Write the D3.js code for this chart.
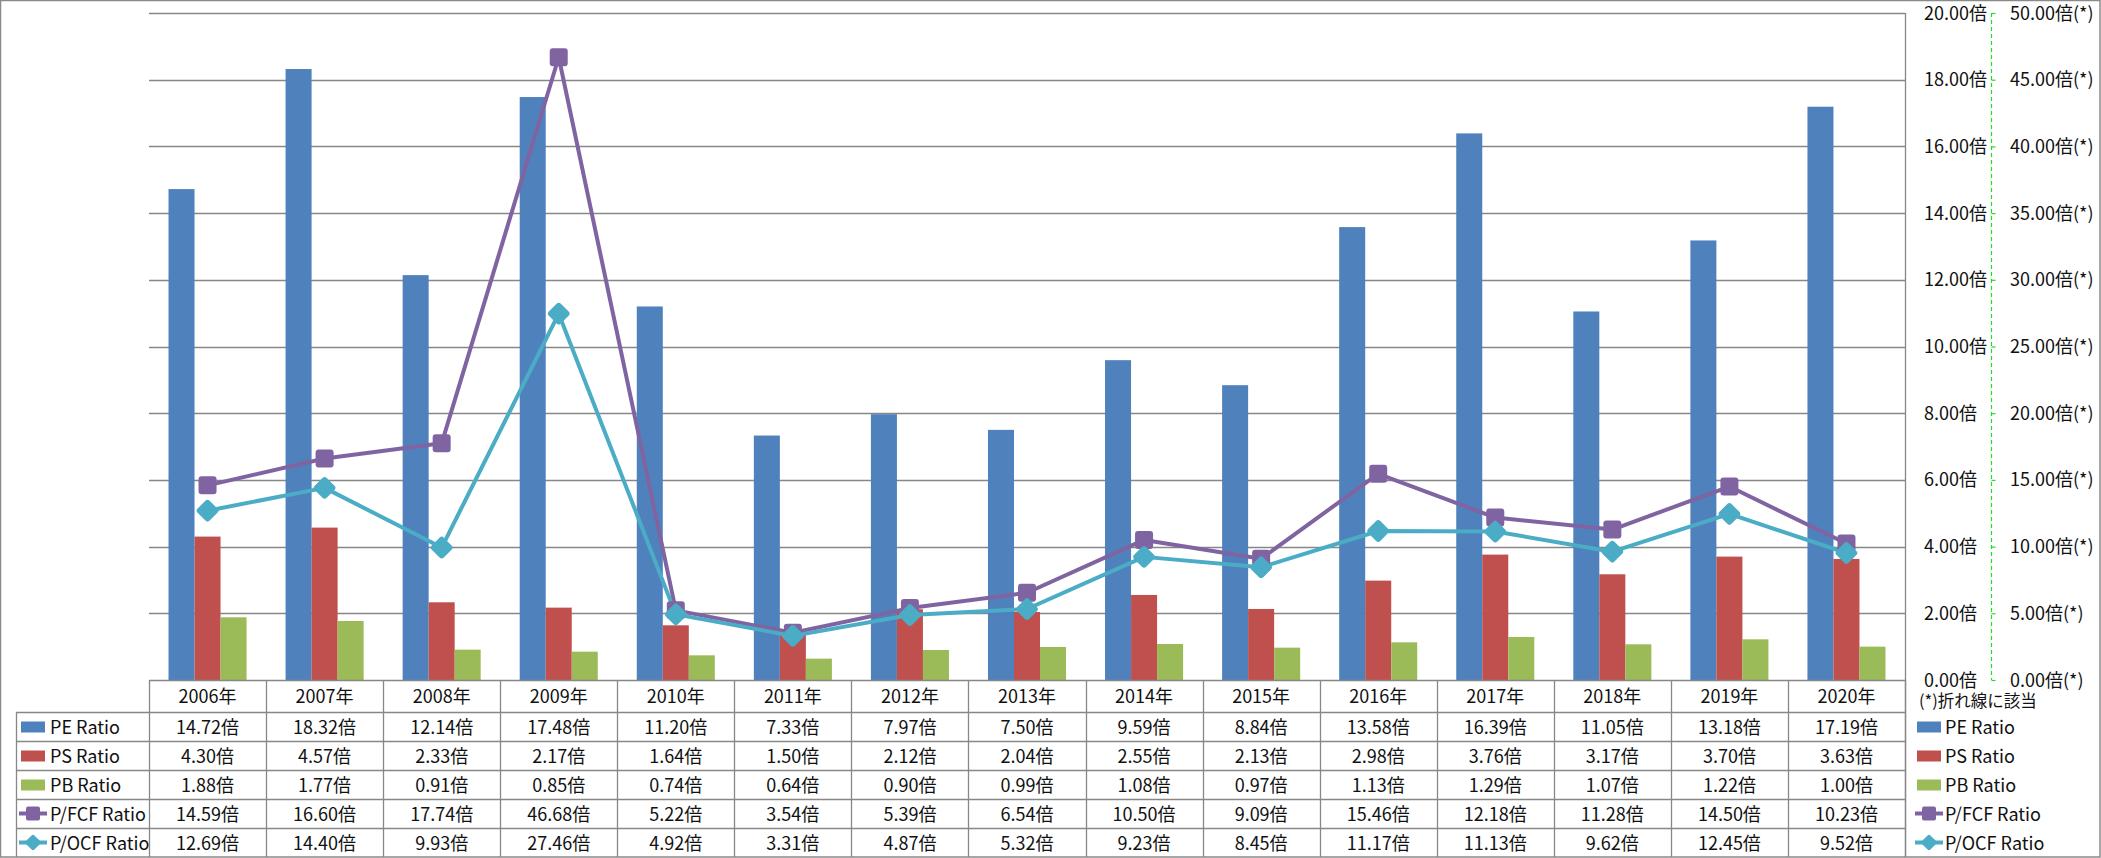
<!DOCTYPE html>
<html>
<head>
<meta charset="utf-8">
<script src="https://cdn.jsdelivr.net/npm/d3@7"></script>
<style>
  html, body { margin: 0; padding: 0; background: #fff; }
  svg { display: block; }
  text { font-family: "Noto Sans CJK JP", "Noto Sans", sans-serif; fill: #111; }
</style>
</head>
<body>
<svg id="chart" width="2101" height="858"></svg>
<script>
const years = ["2006年","2007年","2008年","2009年","2010年","2011年","2012年","2013年","2014年","2015年","2016年","2017年","2018年","2019年","2020年"];
const peRatio  = [14.72,18.32,12.14,17.48,11.20,7.33,7.97,7.50,9.59,8.84,13.58,16.39,11.05,13.18,17.19];
const psRatio  = [4.30,4.57,2.33,2.17,1.64,1.50,2.12,2.04,2.55,2.13,2.98,3.76,3.17,3.70,3.63];
const pbRatio  = [1.88,1.77,0.91,0.85,0.74,0.64,0.90,0.99,1.08,0.97,1.13,1.29,1.07,1.22,1.00];
const pfcfRatio = [14.59,16.60,17.74,46.68,5.22,3.54,5.39,6.54,10.50,9.09,15.46,12.18,11.28,14.50,10.23];
const pocfRatio = [12.69,14.40,9.93,27.46,4.92,3.31,4.87,5.32,9.23,8.45,11.17,11.13,9.62,12.45,9.52];
const barNames = ["PE Ratio","PS Ratio","PB Ratio"];
const lineNames = ["P/FCF Ratio","P/OCF Ratio"];
const leftTicks = [0,2,4,6,8,10,12,14,16,18,20];
const rightTicks = [0,5,10,15,20,25,30,35,40,45,50];
const noteText = "(*)折れ線に該当";

const barSeries = [
  {name: barNames[0], values: peRatio, color: "#4F81BD"},
  {name: barNames[1], values: psRatio, color: "#C0504D"},
  {name: barNames[2], values: pbRatio, color: "#9BBB59"}
];
const lineSeries = [
  {name: lineNames[0], values: pfcfRatio, color: "#8064A2", shape: "square"},
  {name: lineNames[1], values: pocfRatio, color: "#4BACC6", shape: "diamond"}
];

const W = 2101, H = 858;
const plot = {left: 149, right: 1905, top: 13, bottom: 680};
const rowTop = [680, 712, 741, 770, 799, 828, 857];
const legColX = 16;
const gridColor = "#878787";

const svg = d3.select("#chart");

const x = d3.scaleBand().domain(years).range([plot.left, plot.right]).paddingInner(0).paddingOuter(0);
const x1 = d3.scaleBand().domain(barNames).range([0, x.bandwidth()]).paddingInner(0).paddingOuter(0.75);
const y = d3.scaleLinear().domain([0, 20]).range([plot.bottom, plot.top]);
const y2 = d3.scaleLinear().domain([0, 50]).range([plot.bottom, plot.top]);

// outer border
svg.append("rect").attr("x", 0.5).attr("y", 0.5).attr("width", W - 1.5).attr("height", H - 1.5)
  .attr("fill", "none").attr("stroke", "#8a8a8a").attr("stroke-width", 1.5);

// gridlines
svg.append("g").selectAll("line").data(leftTicks.filter(d => d > 0)).join("line")
  .attr("x1", plot.left).attr("x2", plot.right)
  .attr("y1", d => Math.round(y(d)) + 0.5).attr("y2", d => Math.round(y(d)) + 0.5)
  .attr("stroke", gridColor).attr("stroke-width", 1.3);

// bars
const bars = svg.append("g");
barSeries.forEach(s => {
  bars.append("g").selectAll("rect").data(years).join("rect")
    .attr("x", (d) => x(d) + x1(s.name))
    .attr("width", x1.bandwidth())
    .attr("y", (d, i) => y(s.values[i]))
    .attr("height", (d, i) => plot.bottom - y(s.values[i]))
    .attr("fill", s.color);
});

// lines
const lineGen = d3.line().x(d => x(d.year) + x.bandwidth() / 2).y(d => y2(d.v));
lineSeries.forEach(s => {
  const pts = years.map((yr, i) => ({year: yr, v: s.values[i]}));
  svg.append("path").datum(pts).attr("d", lineGen)
    .attr("fill", "none").attr("stroke", s.color).attr("stroke-width", 4).attr("stroke-linejoin", "round");
});
lineSeries.forEach(s => {
  const pts = years.map((yr, i) => ({year: yr, v: s.values[i]}));
  const g = svg.append("g");
  g.selectAll("rect").data(pts).join("rect")
    .attr("x", s.shape === "square" ? -9 : -8.5)
    .attr("y", s.shape === "square" ? -9 : -8.5)
    .attr("width", s.shape === "square" ? 18 : 17)
    .attr("height", s.shape === "square" ? 18 : 17)
    .attr("rx", 3).attr("ry", 3)
    .attr("fill", s.color)
    .attr("transform", d => `translate(${x(d.year) + x.bandwidth() / 2},${y2(d.v)})` + (s.shape === "diamond" ? " rotate(45)" : ""));
});

// right vertical border of plot/table
svg.append("line").attr("x1", plot.right + 0.5).attr("x2", plot.right + 0.5)
  .attr("y1", plot.top).attr("y2", H - 1).attr("stroke", gridColor).attr("stroke-width", 1.3);

// secondary axis dashed line
const axX = 1991.5;
svg.append("line").attr("x1", axX).attr("x2", axX).attr("y1", plot.top).attr("y2", plot.bottom)
  .attr("stroke", "#22dd22").attr("stroke-width", 1.2).attr("stroke-dasharray", "4,3");
svg.append("g").selectAll("line").data(rightTicks).join("line")
  .attr("x1", axX).attr("x2", axX + 4)
  .attr("y1", d => y2(d) + 0.5).attr("y2", d => y2(d) + 0.5)
  .attr("stroke", "#22dd22").attr("stroke-width", 1.2);

// axis labels
const fs = 18;
svg.append("g").selectAll("text").data(leftTicks).join("text")
  .attr("x", 1924).attr("y", d => y(d) + 6.5)
  .attr("font-size", fs).text(d => d.toFixed(2) + "倍");
svg.append("g").selectAll("text").data(rightTicks).join("text")
  .attr("x", 2010).attr("y", d => y2(d) + 6.5)
  .attr("font-size", fs).text(d => d.toFixed(2) + "倍(*)");
svg.append("text").attr("x", 1919).attr("y", 707).attr("font-size", 16.5).text(noteText);

// data table
const tbl = svg.append("g");
rowTop.slice(0, 6).forEach((ry, i) => {
  tbl.append("line").attr("x1", i === 0 ? plot.left : legColX).attr("x2", plot.right)
    .attr("y1", ry + 0.5).attr("y2", ry + 0.5).attr("stroke", gridColor).attr("stroke-width", 1.3);
});
const colEdges = years.map(d => x(d)).concat([plot.right]);
colEdges.forEach(cx => {
  tbl.append("line").attr("x1", Math.round(cx) + 0.5).attr("x2", Math.round(cx) + 0.5)
    .attr("y1", rowTop[0]).attr("y2", H - 1).attr("stroke", gridColor).attr("stroke-width", 1.3);
});
tbl.append("line").attr("x1", legColX + 0.5).attr("x2", legColX + 0.5)
  .attr("y1", rowTop[1]).attr("y2", H - 1).attr("stroke", gridColor).attr("stroke-width", 1.3);

tbl.append("g").selectAll("text").data(years).join("text")
  .attr("x", d => x(d) + x.bandwidth() / 2).attr("y", 703)
  .attr("text-anchor", "middle").attr("font-size", fs).text(d => d);

const allSeries = barSeries.map(s => ({...s, kind: "bar"})).concat(lineSeries.map(s => ({...s, kind: "line"})));
allSeries.forEach((s, r) => {
  const cy = (rowTop[r + 1] + rowTop[r + 2]) / 2;
  tbl.append("g").selectAll("text").data(years).join("text")
    .attr("x", d => x(d) + x.bandwidth() / 2).attr("y", cy + 7)
    .attr("text-anchor", "middle").attr("font-size", fs)
    .text((d, i) => s.values[i].toFixed(2) + "倍");
});

function drawKey(g, s, kx, cy, textX) {
  if (s.kind === "bar") {
    g.append("rect").attr("x", kx).attr("y", cy - 5).attr("width", 24).attr("height", 11).attr("fill", s.color);
  } else {
    g.append("line").attr("x1", kx - 2).attr("x2", kx + 26).attr("y1", cy).attr("y2", cy)
      .attr("stroke", s.color).attr("stroke-width", 4);
    if (s.shape === "square") {
      g.append("rect").attr("x", kx + 12 - 7).attr("y", cy - 7).attr("width", 14).attr("height", 14)
        .attr("rx", 2).attr("fill", s.color);
    } else {
      g.append("rect").attr("x", -6).attr("y", -6).attr("width", 12).attr("height", 12)
        .attr("rx", 2).attr("fill", s.color).attr("transform", `translate(${kx + 12},${cy}) rotate(45)`);
    }
  }
  g.append("text").attr("x", textX).attr("y", cy + 7).attr("font-size", fs).text(s.name);
}
allSeries.forEach((s, r) => {
  const cy = (rowTop[r + 1] + rowTop[r + 2]) / 2;
  drawKey(svg.append("g"), s, 21, cy, 50);
  drawKey(svg.append("g"), s, 1917, cy, 1945);
});
</script>
</body>
</html>
